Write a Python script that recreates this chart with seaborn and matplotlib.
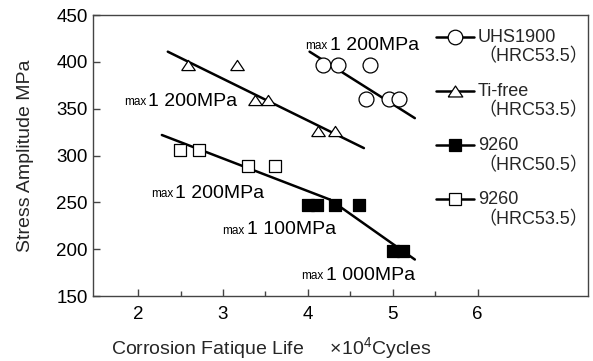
import numpy as np
import pandas as pd
import matplotlib
matplotlib.use("Agg")
import matplotlib.pyplot as plt
import seaborn as sns
from matplotlib.lines import Line2D
from matplotlib.legend_handler import HandlerLine2D

# ---------------- data ----------------
uhs_life = [4.18, 4.36, 4.73, 4.69, 4.96, 5.07]
uhs_stress = [397, 397, 397, 360, 360, 360]
ti_life = [2.59, 3.17, 3.38, 3.53, 4.12, 4.32]
ti_stress = [397, 397, 359, 359, 326, 326]
s505_life = [4.00, 4.11, 4.32, 4.60, 5.00, 5.12]
s505_stress = [247, 247, 247, 247, 198, 198]
s535_life = [2.49, 2.72, 3.29, 3.61]
s535_stress = [306, 306, 289, 289]

# trend lines (end points)
uhs_fit_life = [4.02, 5.26]
uhs_fit_stress = [411, 340]
ti_fit_life = [2.35, 4.66]
ti_fit_stress = [411, 308]
s535_fit_life = [2.28, 4.26]
s535_fit_stress = [322, 253]
s505_fit_life = [4.26, 5.26]
s505_fit_stress = [253, 189]

legend_labels = ["UHS1900\n（HRC53.5）", "Ti-free\n（HRC53.5）",
                 "9260\n（HRC50.5）", "9260\n（HRC53.5）"]
ann_values = ["1 200MPa", "1 200MPa", "1 200MPa", "1 100MPa", "1 000MPa"]
x_ticks = [2, 3, 4, 5, 6]
x_minor = [2.5, 3.5, 4.5, 5.5]
y_ticks = [150, 200, 250, 300, 350, 400, 450]

# ---------------- style ----------------
sns.set_style("ticks")
plt.rcParams["font.family"] = ["Liberation Sans", "Noto Sans CJK SC", "DejaVu Sans"]
plt.rcParams["mathtext.fontset"] = "custom"
plt.rcParams["mathtext.rm"] = "Liberation Sans"
plt.rcParams["mathtext.it"] = "Liberation Sans:italic"
plt.rcParams["mathtext.bf"] = "Liberation Sans:bold"

fig, ax = plt.subplots(figsize=(5.93, 3.61), dpi=100)
fig.subplots_adjust(left=0.157, right=0.9916, bottom=0.18, top=0.958)

tri = [(-1, -0.75), (1, -0.75), (0, 0.75), (-1, -0.75)]
LW = 1.8

# trend lines
for fx, fy in [(uhs_fit_life, uhs_fit_stress), (ti_fit_life, ti_fit_stress),
               (s535_fit_life, s535_fit_stress), (s505_fit_life, s505_fit_stress)]:
    sns.lineplot(x=fx, y=fy, color="black", linewidth=LW, ax=ax,
                 legend=False, sort=False, zorder=2)

# markers
sns.scatterplot(x=uhs_life, y=uhs_stress, marker="o", s=115, color="white",
                edgecolor="black", linewidth=0.9, ax=ax, zorder=3, legend=False)
sns.scatterplot(x=ti_life, y=ti_stress, marker=tri, s=95, color="white",
                edgecolor="black", linewidth=0.9, ax=ax, zorder=3, legend=False)
sns.scatterplot(x=s505_life, y=s505_stress, marker="s", s=72, color="black",
                edgecolor="black", linewidth=0.9, ax=ax, zorder=3, legend=False)
sns.scatterplot(x=s535_life, y=s535_stress, marker="s", s=68, color="white",
                edgecolor="black", linewidth=0.9, ax=ax, zorder=3, legend=False)

# annotations  max + value
ann_pos = [(4.26, 413), (2.12, 353), (2.435, 255), (3.28, 216), (4.21, 167)]
for txt, (px, py) in zip(ann_values, ann_pos):
    ax.text(px, py, txt, fontsize=14, ha="left", va="baseline", color="black")
    ax.annotate("max", xy=(px, py), xytext=(-1.5, 0.5), textcoords="offset points",
                fontsize=8.5, ha="right", va="baseline", color="black")

# axes
ax.set_xlim(1.47, 7.3)
ax.set_ylim(150, 450)
ax.set_xticks(x_ticks)
ax.set_xticks(x_minor, minor=True)
ax.set_yticks(y_ticks)
ax.tick_params(axis="both", which="major", direction="in", length=5, width=1,
               color="#444444", labelcolor="black", labelsize=13.5)
ax.tick_params(axis="x", which="major", pad=7)
ax.tick_params(axis="y", which="major", pad=4)
ax.tick_params(axis="x", which="minor", direction="in", length=3.5, width=1,
               color="#444444")
for sp in ax.spines.values():
    sp.set_visible(True)
    sp.set_color("#444444")
    sp.set_linewidth(1.0)

ax.set_ylabel("Stress Amplitude MPa", fontsize=14)
ax.yaxis.set_label_coords(-0.119, 0.5)
ax.set_xlabel("Corrosion Fatique Life     ×10$^{4}$Cycles", fontsize=14,
              ha="left", va="baseline")
ax.xaxis.set_label_coords(0.036, -0.208)


# legend with handle aligned to first line of label
class FirstLineHandler(HandlerLine2D):
    def __init__(self, shift, **kw):
        super().__init__(**kw)
        self.shift = shift

    def create_artists(self, legend, orig_handle, xdescent, ydescent, width,
                       height, fontsize, trans):
        arts = super().create_artists(legend, orig_handle, xdescent, ydescent,
                                      width, height, fontsize, trans)
        for a in arts:
            a.set_ydata(np.asarray(a.get_ydata(), float) + self.shift)
        return arts


handles = [
    Line2D([], [], color="black", lw=LW, marker="o", ms=10.5, mfc="white",
           mec="black", mew=0.9),
    Line2D([], [], color="black", lw=LW, marker=tri, ms=10.5, mfc="white",
           mec="black", mew=0.9),
    Line2D([], [], color="black", lw=LW, marker="s", ms=8.8, mfc="black",
           mec="black", mew=0.9),
    Line2D([], [], color="black", lw=LW, marker="s", ms=8.8, mfc="white",
           mec="black", mew=0.9),
]
leg = ax.legend(handles, legend_labels, loc="upper left",
                bbox_to_anchor=(0.693, 0.952), frameon=False, fontsize=13.0,
                handlelength=2.1, handletextpad=0.22, borderpad=0,
                borderaxespad=0, labelspacing=0.98,
                handler_map={Line2D: FirstLineHandler(7.6)})
for t in leg.get_texts():
    t.set_linespacing(1.18)

fig.savefig("out.png", dpi=100)
